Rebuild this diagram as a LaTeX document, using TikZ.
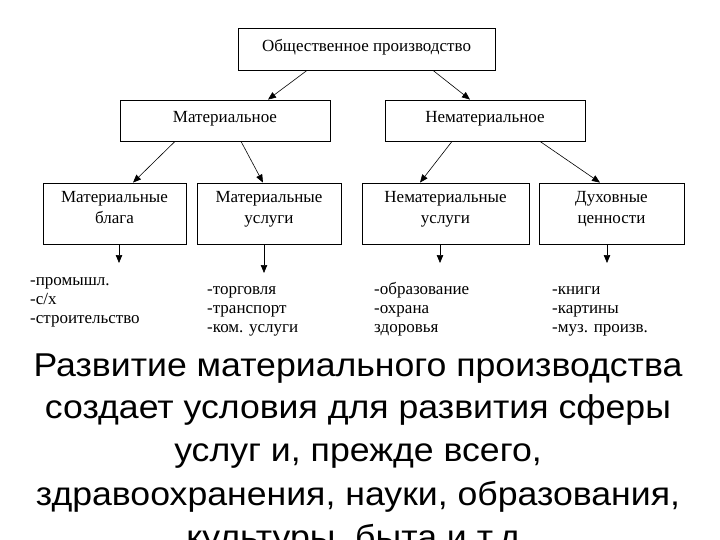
\documentclass[tikz,border=0pt]{standalone}
\usepackage{fontspec}
\setmainfont{Liberation Serif}
\newfontfamily\capfont[FakeStretch=1.08]{Liberation Sans}
\usetikzlibrary{arrows.meta,calc}
\tikzset{
  box/.style={draw, line width=0.8pt, inner sep=0pt},
  boxtext/.style={anchor=base, inner sep=0pt, font=\fontsize{17}{20}\selectfont},
  arr/.style={line width=0.6pt, -{Triangle[length=8pt,width=6.5pt]}},
  item/.style={anchor=base west, inner sep=0pt, font=\fontsize{17}{19}\selectfont},
  captext/.style={anchor=base, inner sep=0pt, font=\capfont\fontsize{33}{43}\selectfont}
}
\begin{document}
\begin{tikzpicture}[x=1pt,y=-1pt]
\useasboundingbox (0,0) rectangle (720,540);
% boxes
\node[box, minimum width=257pt, minimum height=42pt] (top) at (366.5,49) {};
\node[box, minimum width=210pt, minimum height=41pt] (mat) at (225,120.5) {};
\node[box, minimum width=200pt, minimum height=41pt] (nemat) at (485,120.5) {};
\node[box, minimum width=143pt, minimum height=61pt] (b1) at (114.5,213.5) {};
\node[box, minimum width=144pt, minimum height=61pt] (b2) at (269,213.5) {};
\node[box, minimum width=167pt, minimum height=61pt] (b3) at (445.5,213.5) {};
\node[box, minimum width=145pt, minimum height=61pt] (b4) at (611.5,213.5) {};
% box texts
\node[boxtext] (t0) at ([yshift=-3pt]top.center) {Общественное производство};
\node[boxtext] (t1) at ([yshift=-2.5pt]mat.center) {Материальное};
\node[boxtext] (t2) at ([yshift=-2.5pt]nemat.center) {Нематериальное};
\node[boxtext] (t3a) at ([yshift=10.5pt]b1.center) {Материальные};
\node[boxtext] (t3b) at ([yshift=-9.5pt]b1.center) {блага};
\node[boxtext] (t4a) at ([yshift=10.5pt]b2.center) {Материальные};
\node[boxtext] (t4b) at ([yshift=-9.5pt]b2.center) {услуги};
\node[boxtext] (t5a) at ([yshift=10.5pt]b3.center) {Нематериальные};
\node[boxtext] (t5b) at ([yshift=-9.5pt]b3.center) {услуги};
\node[boxtext] (t6a) at ([yshift=10.5pt]b4.center) {Духовные};
\node[boxtext] (t6b) at ([yshift=-9.5pt]b4.center) {ценности};
% level arrows
\draw[arr] ([xshift=-59.5pt]top.south) -- ([xshift=43pt]mat.north);
\draw[arr] ([xshift=66.5pt]top.south) -- ([xshift=-15pt]nemat.north);
\draw[arr] ([xshift=-50pt]mat.south) -- ([xshift=18.5pt]b1.north);
\draw[arr] ([xshift=16pt]mat.south) -- ([xshift=-6pt]b2.north);
\draw[arr] ([xshift=-33pt]nemat.south) -- ([xshift=-25.5pt]b3.north);
\draw[arr] ([xshift=55pt]nemat.south) -- ([xshift=-11.5pt]b4.north);
% down arrows
\coordinate (d1) at (119,263);
\coordinate (d2) at (264,273);
\coordinate (d3) at (440,263);
\coordinate (d4) at (607,263);
\draw[arr] (b1.south -| d1) -- (d1);
\draw[arr] (b2.south -| d2) -- (d2);
\draw[arr] (b3.south -| d3) -- (d3);
\draw[arr] (b4.south -| d4) -- (d4);
% lists
\node[item] (l1a) at (30,285) {-промышл.};
\node[item] (l1b) at (30,304) {-с/х};
\node[item] (l1c) at (30,323) {-строительство};
\node[item] (l2a) at (207,294) {-торговля};
\node[item] (l2b) at (207,313) {-транспорт};
\node[item] (l2c) at (207,332) {-ком. услуги};
\node[item] (l3a) at (374,294) {-образование};
\node[item] (l3b) at (374,313) {-охрана};
\node[item] (l3c) at (374,332) {здоровья};
\node[item] (l4a) at (552,294) {-книги};
\node[item] (l4b) at (552,313) {-картины};
\node[item] (l4c) at (552,332) {-муз. произв.};
% caption
\node[captext] (c1) at (358,376) {Развитие материального производства};
\node[captext] (c2) at (358,418) {создает условия для развития сферы};
\node[captext] (c3) at (358,461) {услуг и, прежде всего,};
\node[captext] (c4) at (358,505) {здравоохранения, науки, образования,};
\node[captext] (c5) at (358,548) {культуры, быта и т.д.};
\end{tikzpicture}
\end{document}
